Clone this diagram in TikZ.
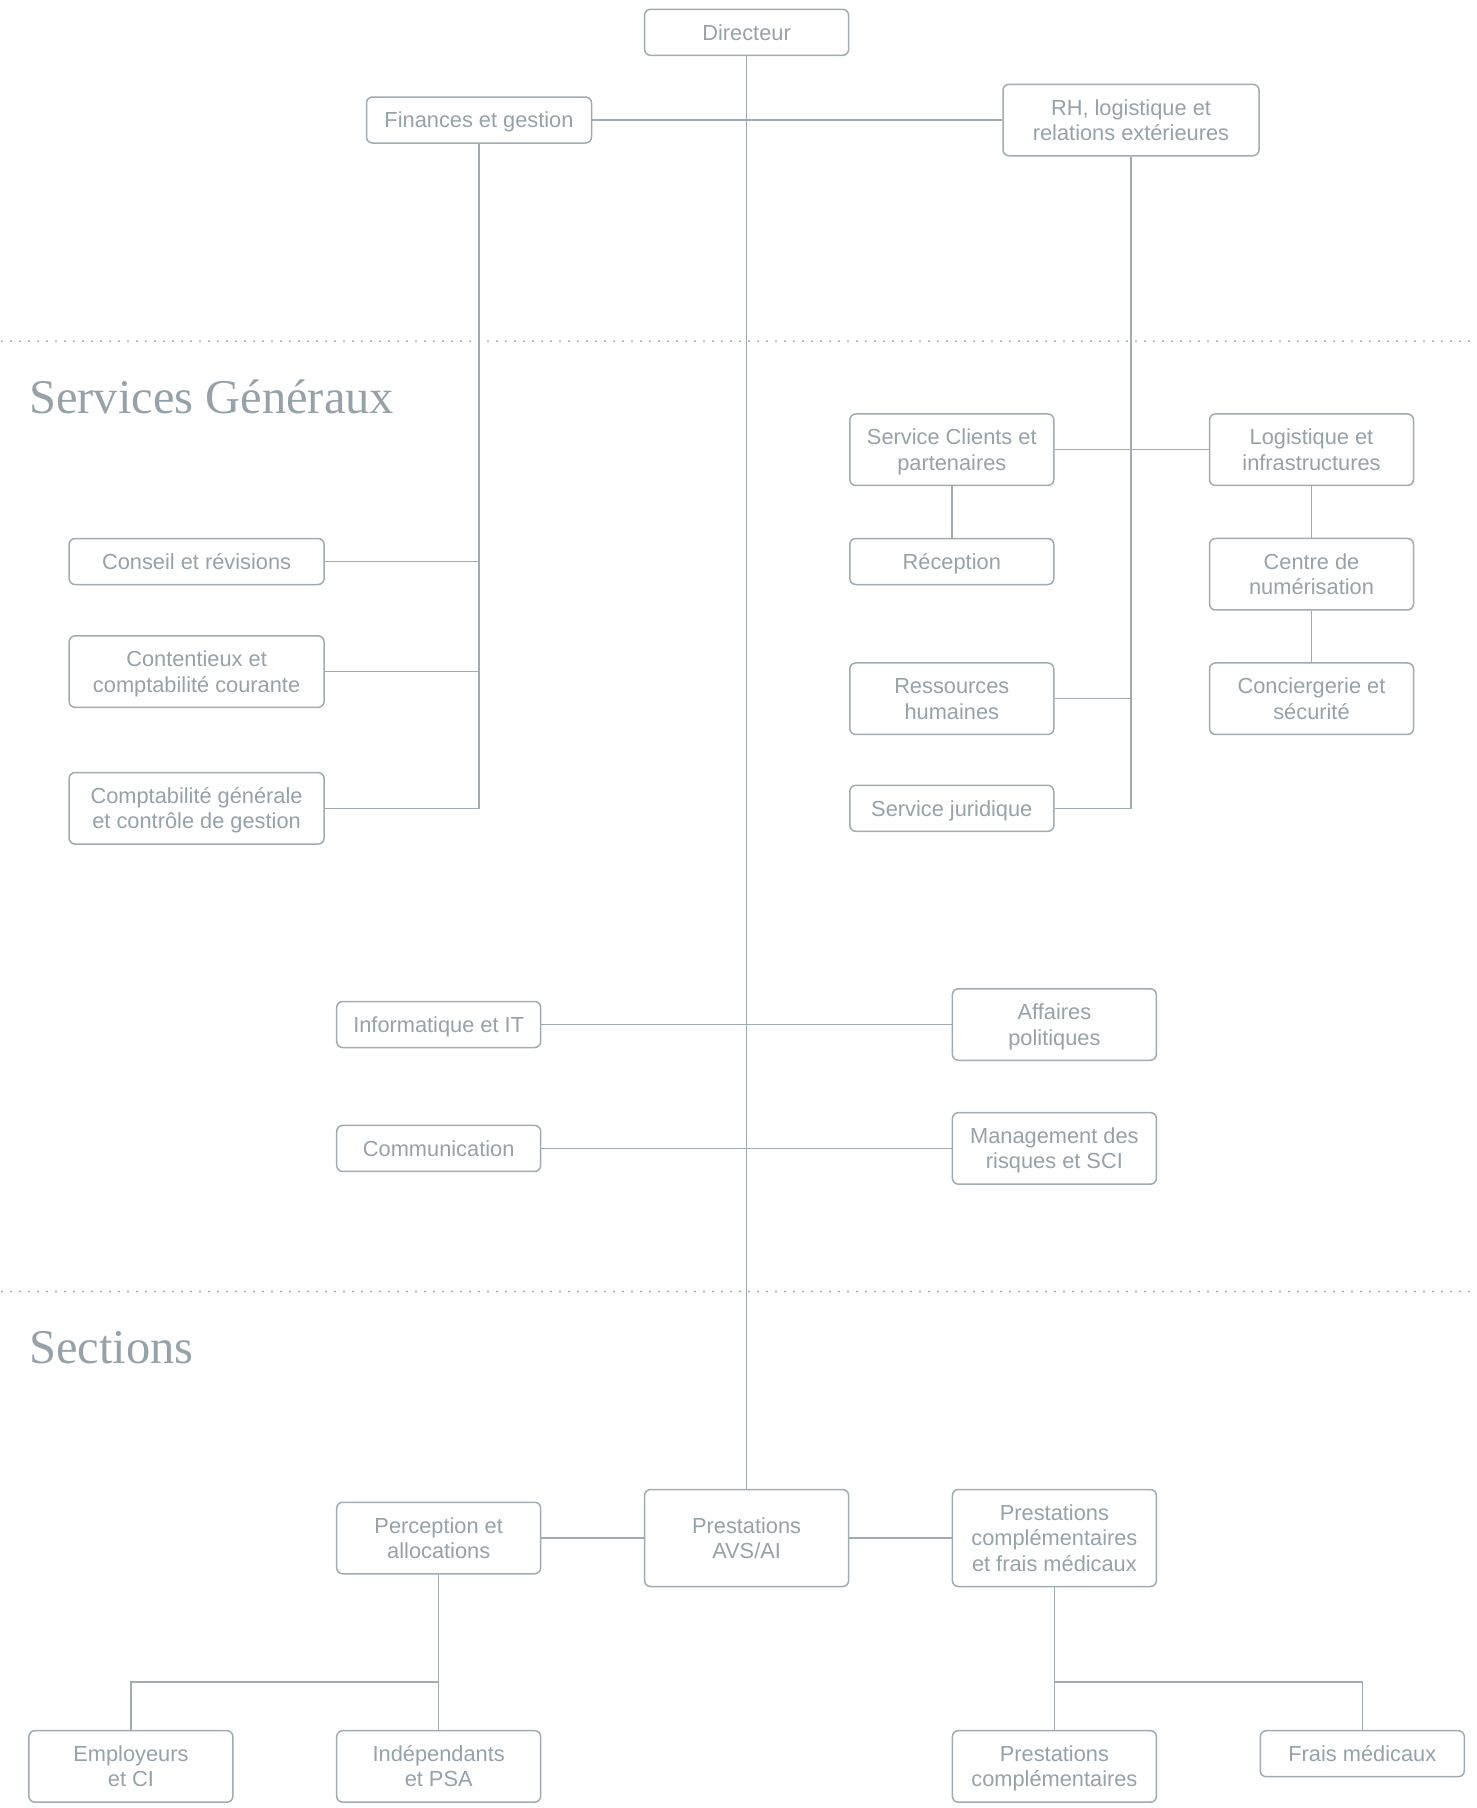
\documentclass[tikz,border=0pt]{standalone}
\usepackage{fontspec}
\setmainfont{Liberation Sans}
\newfontfamily\headfont{Liberation Serif}
\definecolor{lc}{RGB}{160,171,178}
\definecolor{tc}{RGB}{150,162,170}
\newcommand\boxtext[1]{\begin{tabular}{@{}c@{}}\rule{0pt}{23.3pt}#1\end{tabular}}
\begin{document}
\begin{tikzpicture}[x=1pt,y=-1pt,
  box/.style={draw=lc, line width=1.5pt, rounded corners=6pt, fill=white, text=tc,
    inner sep=0pt, minimum width=204pt, minimum height=46pt,
    font=\fontsize{21.8}{25.4}\selectfont},
  two/.style={minimum height=71.5pt},
  three/.style={minimum height=97pt},
  wide/.style={minimum width=255pt},
  conn/.style={draw=lc, line width=1.5pt},
  sep/.style={draw=lc, line width=2.2pt, line cap=round, dash pattern=on 0pt off 9pt},
  head/.style={anchor=base west, text=tc, inner sep=0pt, font=\headfont\fontsize{48.5}{55}\selectfont}]
\useasboundingbox (0,0) rectangle (1477,1808);

% separators and headings
\coordinate (s1l) at (2,341.3); \coordinate (s1r) at (1476,341.3);
\coordinate (s2l) at (2,1291.4); \coordinate (s2r) at (1476,1291.4);
\draw[sep] (s1l) -- (s1r);
\draw[sep] (s2l) -- (s2r);
\node[head] (hsg) at (29,413) {Services Généraux};
\node[head] (hsec) at (29,1363) {Sections};

% top
\node[box] (dir) at (746.6,32.3) {\boxtext{Directeur}};
\node[box, minimum width=225pt] (fin) at (479,120) {\boxtext{Finances et gestion}};
\node[box, two, minimum width=256pt] (rh) at (1131,120) {\boxtext{RH, logistique et\\relations extérieures}};

% finances children
\node[box, wide] (cons) at (196.6,561.5) {\boxtext{Conseil et révisions}};
\node[box, wide, two] (cont) at (196.6,671.6) {\boxtext{Contentieux et\\comptabilité courante}};
\node[box, wide, two] (compta) at (196.6,808.3) {\boxtext{Comptabilité générale\\et contrôle de gestion}};

% RH children
\node[box, two] (scp) at (951.8,449.7) {\boxtext{Service Clients et\\partenaires}};
\node[box, two] (log) at (1311.5,449.7) {\boxtext{Logistique et\\infrastructures}};
\node[box] (rec) at (951.8,561.5) {\boxtext{Réception}};
\node[box, two] (cn) at (1311.5,574.2) {\boxtext{Centre de\\numérisation}};
\node[box, two] (rhum) at (951.8,698.7) {\boxtext{Ressources\\humaines}};
\node[box, two] (conc) at (1311.5,698.7) {\boxtext{Conciergerie et\\sécurité}};
\node[box] (jur) at (951.8,808.3) {\boxtext{Service juridique}};

% staff
\node[box] (info) at (438.7,1024.5) {\boxtext{Informatique et IT}};
\node[box, two] (aff) at (1054.4,1024.5) {\boxtext{Affaires\\politiques}};
\node[box] (comm) at (438.7,1148.4) {\boxtext{Communication}};
\node[box, two] (mgmt) at (1054.4,1148.4) {\boxtext{Management des\\risques et SCI}};

% sections
\node[box, three] (avs) at (746.6,1538) {\boxtext{Prestations\\AVS/AI}};
\node[box, two] (perc) at (438.7,1538) {\boxtext{Perception et\\allocations}};
\node[box, three] (pcfm) at (1054.4,1538) {\boxtext{Prestations\\complémentaires\\et frais médicaux}};
\node[box, two] (emp) at (130.9,1766.4) {\boxtext{Employeurs\\et CI}};
\node[box, two] (ind) at (438.7,1766.4) {\boxtext{Indépendants\\et PSA}};
\node[box, two] (pc) at (1054.4,1766.4) {\boxtext{Prestations\\complémentaires}};
\node[box] (frais) at (1362.3,1753.7) {\boxtext{Frais médicaux}};

\coordinate (busL) at (438.7,1682);
\coordinate (busR) at (1054.4,1682);

% connectors
\draw[conn] (dir) -- (avs);
\draw[conn] (fin) -- (rh);
\draw[conn] (fin.south) |- (cons.east);
\draw[conn] (fin.south) |- (cont.east);
\draw[conn] (fin.south) |- (compta.east);
\draw[conn] (scp) -- (log);
\draw[conn] (rh.south) |- (rhum.east);
\draw[conn] (rh.south) |- (jur.east);
\draw[conn] (scp) -- (rec);
\draw[conn] (log) -- (cn);
\draw[conn] (cn) -- (conc);
\draw[conn] (info) -- (aff);
\draw[conn] (comm) -- (mgmt);
\draw[conn] (perc) -- (avs);
\draw[conn] (avs) -- (pcfm);
\draw[conn] (perc) -- (ind);
\draw[conn] (emp.north) |- (busL);
\draw[conn] (pcfm) -- (pc);
\draw[conn] (frais.north) |- (busR);
\end{tikzpicture}
\end{document}
